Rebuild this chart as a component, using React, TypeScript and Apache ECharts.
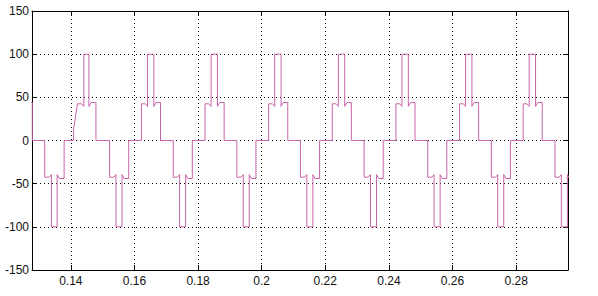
import React, { useEffect, useRef } from "react";
import * as echarts from "echarts";

// Axis ticks
const xTicks = [0.14, 0.16, 0.18, 0.2, 0.22, 0.24, 0.26, 0.28];
const yTicks = [-150, -100, -50, 0, 50, 100, 150];
const xMin = 0.1278;
const xMax = 0.2963;

// Pulse edge times: [rise, peakStart, peakEnd, fall]
const positivePulses = [
  [0.1218, 0.1238, 0.1257, 0.1279],
  [0.1421, 0.1441, 0.1457, 0.1479],
  [0.1622, 0.1641, 0.1661, 0.1682],
  [0.1822, 0.1841, 0.1861, 0.1882],
  [0.2022, 0.2041, 0.2061, 0.2082],
  [0.2222, 0.2241, 0.2261, 0.2282],
  [0.2422, 0.2441, 0.2461, 0.2482],
  [0.2622, 0.2641, 0.2661, 0.2682],
  [0.2822, 0.2841, 0.2861, 0.2882],
];
const negativePulses = [
  [0.1318, 0.1339, 0.1357, 0.1379],
  [0.1522, 0.1542, 0.1561, 0.1582],
  [0.1722, 0.1742, 0.1761, 0.1782],
  [0.1922, 0.1942, 0.1961, 0.1982],
  [0.2122, 0.2142, 0.2161, 0.2182],
  [0.2322, 0.2342, 0.2361, 0.2382],
  [0.2522, 0.2542, 0.2561, 0.2582],
  [0.2722, 0.2742, 0.2761, 0.2782],
  [0.2922, 0.2942, 0.2961, 0.2982],
];
// the first full positive pulse has a ramped rise: [footTime, footValue]
const firstRiseFoot = [0.1409, 14];

// Levels
const leftShoulder = 42.5;
const rightShoulder = 44;
const notchLevel = 39.5;
const peakLevel = 100;
const notchWidth = 0.0007;

function pulsePoints(edges: number[], sign: number, foot?: number[]) {
  const [rise, pk0, pk1, fall] = edges;
  const pts: number[][] = [];
  if (foot) {
    pts.push([foot[0], 0], [foot[0], sign * foot[1]], [rise, sign * leftShoulder]);
  } else {
    pts.push([rise, 0], [rise, sign * leftShoulder]);
  }
  pts.push(
    [pk0 - notchWidth, sign * leftShoulder],
    [pk0, sign * notchLevel],
    [pk0, sign * peakLevel],
    [pk1, sign * peakLevel],
    [pk1, sign * notchLevel],
    [pk1 + notchWidth, sign * rightShoulder],
    [fall, sign * rightShoulder],
    [fall, 0]
  );
  return pts;
}

function buildData() {
  const groups: { t: number; pts: number[][] }[] = [];
  positivePulses.forEach((e, i) =>
    groups.push({ t: e[0], pts: pulsePoints(e, 1, i === 1 ? firstRiseFoot : undefined) })
  );
  negativePulses.forEach((e) => groups.push({ t: e[0], pts: pulsePoints(e, -1) }));
  groups.sort((a, b) => a.t - b.t);
  const out: number[][] = [];
  groups.forEach((g) => out.push(...g.pts));
  return out;
}

const FONT = "'Liberation Sans', Arial, sans-serif";

export default function App() {
  const ref = useRef<HTMLDivElement>(null);
  useEffect(() => {
    if (!ref.current) return;
    const chart = echarts.init(ref.current, undefined, { renderer: "svg" });
    const gridLine = { show: true, lineStyle: { color: "#000", width: 1, type: [1, 3] as any } };
    const axisLine = { show: true, onZero: false, lineStyle: { color: "#000", width: 1 } };
    chart.setOption({
      animation: false,
      backgroundColor: "#fff",
      grid: { left: 32, right: 30, top: 11, bottom: 26, containLabel: false },
      xAxis: [
        {
          type: "value",
          min: xMin,
          max: xMax,
          position: "bottom",
          axisLine,
          axisTick: { show: true, inside: true, length: 5, customValues: xTicks, lineStyle: { color: "#000" } },
          axisLabel: {
            show: true,
            customValues: xTicks,
            color: "#111",
            fontFamily: FONT,
            fontSize: 12,
            margin: 5,
          },
          splitLine: gridLine,
        },
        {
          type: "value",
          min: xMin,
          max: xMax,
          position: "top",
          axisLine,
          axisTick: { show: true, inside: true, length: 5, customValues: xTicks, lineStyle: { color: "#000" } },
          axisLabel: { show: false },
          splitLine: { show: false },
        },
      ],
      yAxis: [
        {
          type: "value",
          min: yTicks[0],
          max: yTicks[yTicks.length - 1],
          interval: 50,
          position: "left",
          axisLine,
          axisTick: { show: true, inside: true, length: 5, lineStyle: { color: "#000" } },
          axisLabel: { show: true, color: "#111", fontFamily: FONT, fontSize: 12, margin: 3 },
          splitLine: gridLine,
        },
        {
          type: "value",
          min: yTicks[0],
          max: yTicks[yTicks.length - 1],
          interval: 50,
          position: "right",
          axisLine,
          axisTick: { show: true, inside: true, length: 5, lineStyle: { color: "#000" } },
          axisLabel: { show: false },
          splitLine: { show: false },
        },
      ],
      series: [
        {
          type: "line",
          xAxisIndex: 0,
          yAxisIndex: 0,
          data: buildData(),
          showSymbol: false,
          symbol: "none",
          clip: true,
          lineStyle: { color: "#c864aa", width: 1 },
        },
      ],
    });
    return () => chart.dispose();
  }, []);
  return (
    <div
      ref={ref}
      style={{ position: "fixed", left: 0, top: 0, width: 598, height: 296, background: "#fff" }}
    />
  );
}
